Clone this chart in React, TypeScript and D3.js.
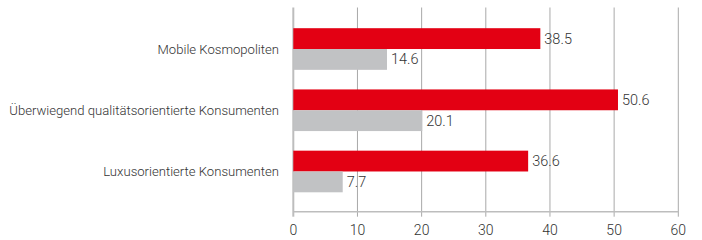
import React from "react";
import * as d3 from "d3";

const categories = [
  "Mobile Kosmopoliten",
  "Überwiegend qualitätsorientierte Konsumenten",
  "Luxusorientierte Konsumenten",
];
const seriesA = [38.5, 50.6, 36.6];
const seriesB = [14.6, 20.1, 7.7];
const xTicks = [0, 10, 20, 30, 40, 50, 60];

const W = 702;
const H = 240;

export default function App() {
  const x = d3.scaleLinear().domain([0, 60]).range([293.3, 678.3]);
  const y = d3
    .scaleBand<string>()
    .domain(categories)
    .range([18.4, 202.1])
    .paddingInner(0.32)
    .paddingOuter(0.16);
  const sub = d3
    .scaleBand<string>()
    .domain(["a", "b"])
    .range([0, y.bandwidth()]);
  const gridTop = 7.5;
  const axisY = 211.7;
  const font = "Roboto, 'Liberation Sans', Arial, sans-serif";
  const txt = "#333333";

  return (
    <svg
      width={W}
      height={H}
      style={{ position: "absolute", left: 0, top: 0, background: "#fff" }}
      fontFamily={font}
      fontWeight={300}
    >
      {xTicks.map((t) => (
        <line
          key={"g" + t}
          x1={x(t)}
          x2={x(t)}
          y1={gridTop}
          y2={axisY + 5}
          stroke={t === 0 ? "#bdbdbd" : "#a9a9a9"}
          strokeWidth={t === 0 ? 2 : 1}
        />
      ))}
      <line x1={x(0)} x2={x(60)} y1={axisY} y2={axisY} stroke="#bdbdbd" strokeWidth={1.5} />
      {xTicks.map((t) => (
        <text
          key={"t" + t}
          x={x(t)}
          y={234.5}
          textAnchor="middle"
          fontSize={14}
          fill={txt}
        >
          {t}
        </text>
      ))}
      {categories.map((c, i) => {
        const y0 = y(c)!;
        return (
          <g key={c}>
            <text
              x={279}
              y={y0 + y.bandwidth() / 2 + 4.8}
              textAnchor="end"
              fontSize={13.1}
              fill={txt}
            >
              {c}
            </text>
            <rect
              x={x(0)}
              y={y0 + sub("a")!}
              width={x(seriesA[i]) - x(0)}
              height={sub.bandwidth()}
              fill="#e30013"
            />
            <rect
              x={x(0)}
              y={y0 + sub("b")!}
              width={x(seriesB[i]) - x(0)}
              height={sub.bandwidth()}
              fill="#c1c2c4"
            />
            <text
              x={x(seriesA[i]) + 4}
              y={y0 + sub("a")! + sub.bandwidth() / 2 + 5}
              fontSize={14.5}
              fill={txt}
            >
              {seriesA[i]}
            </text>
            <text
              x={x(seriesB[i]) + 4}
              y={y0 + sub("b")! + sub.bandwidth() / 2 + 5}
              fontSize={14.5}
              fill={txt}
            >
              {seriesB[i]}
            </text>
          </g>
        );
      })}
    </svg>
  );
}
